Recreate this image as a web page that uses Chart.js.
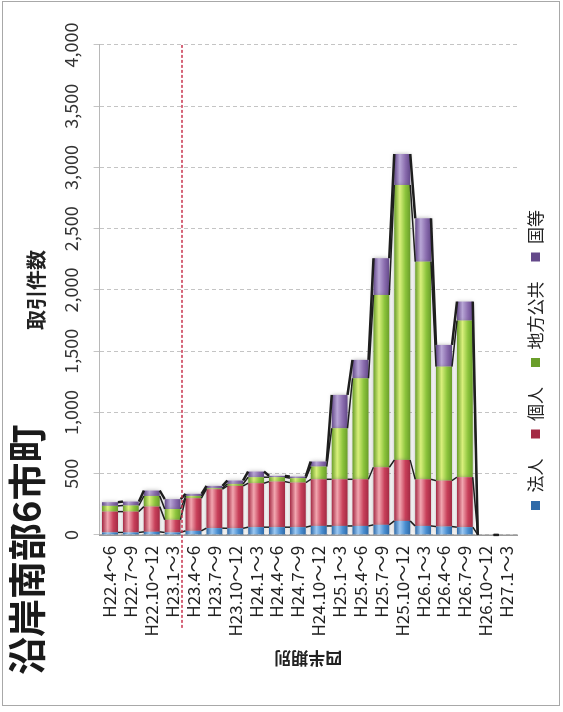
<!DOCTYPE html>
<html>
<head>
<meta charset="utf-8">
<script src="https://cdn.jsdelivr.net/npm/chart.js@4.4.1/dist/chart.umd.min.js"></script>
<style>
    html, body { margin: 0; padding: 0; background: #ffffff; }
    body { width: 563px; height: 712px; position: relative; overflow: hidden; }
    #frame { position: absolute; left: 2px; top: 1px; width: 556px; height: 703px; border: 1px solid #a8a8a8; }
    /* the scanned chart lies on its side: draw it landscape and turn it */
    #turn { position: absolute; left: 0; top: 0; width: 712px; height: 563px; transform-origin: 0 0; transform: translateY(712px) rotate(-90deg); }
</style>
</head>
<body>
<div id="frame"></div>
<div id="turn"><canvas id="barChartLoc" width="712" height="563"></canvas></div>
<script>
var quarters = ["H22.4～6", "H22.7～9", "H22.10～12", "H23.1～3", "H23.4～6", "H23.7～9", "H23.10～12",
    "H24.1～3", "H24.4～6", "H24.7～9", "H24.10～12", "H25.1～3", "H25.4～6", "H25.7～9", "H25.10～12",
    "H26.1～3", "H26.4～6", "H26.7～9", "H26.10～12", "H27.1～3"];

var houjin = [20, 20, 25, 20, 33, 55, 54, 63, 63, 63, 73, 73, 73, 82, 114, 73, 68, 63, 0, 0];
var kojin = [170, 170, 206, 103, 266, 318, 346, 359, 372, 364, 381, 381, 381, 470, 498, 381, 375, 408, 0, 0];
var chihou = [47, 50, 87, 88, 19, 8, 16, 49, 36, 36, 104, 417, 825, 1407, 2245, 1777, 931, 1279, 0, 0];
var kuni = [30, 32, 44, 81, 17, 19, 28, 46, 11, 13, 41, 272, 150, 300, 253, 354, 177, 155, 0, 0];

var seriesNames = ["法人", "個人", "地方公共", "国等"];
var valueTicks = [0, 500, 1000, 1500, 2000, 2500, 3000, 3500, 4000];

var barRatio = 0.76;
var jp = '"Noto Sans CJK JP", "Noto Sans", sans-serif';

// cylinder-like shading across each bar
function shade(base, light, dark) {
    return function (c) {
        var chart = c.chart;
        if (c.dataIndex === undefined || !chart.chartArea) {
            return base;
        }
        var y = chart.scales.y;
        var mid = y.getPixelForValue(c.dataIndex);
        var half = y.height / quarters.length * barRatio / 2;
        var g = chart.ctx.createLinearGradient(0, mid - half, 0, mid + half);
        g.addColorStop(0, dark);
        g.addColorStop(0.35, light);
        g.addColorStop(0.7, base);
        g.addColorStop(1, dark);
        return g;
    };
}

// Excel style series lines between stacks, plus the red dashed marker line
var extraLines = {
    id: "extraLines",
    afterLayout: function (chart) {
        // legend sits a little closer to the plot than its padding allows
        chart.legend.top -= 10;
        chart.legend.bottom -= 10;
    },
    beforeDatasetsDraw: function (chart) {
        var ctx = chart.ctx;
        ctx.save();
        ctx.shadowColor = "rgba(90, 90, 90, 0.45)";
        ctx.shadowBlur = 4;
    },
    afterDatasetsDraw: function (chart) {
        var ctx = chart.ctx;
        ctx.restore();
        var x = chart.scales.x;
        var y = chart.scales.y;
        var half = y.height / quarters.length * barRatio / 2;
        var stacks = [houjin, kojin, chihou, kuni];
        var sums = quarters.map(function () { return 0; });

        ctx.save();
        ctx.strokeStyle = "#1e1e1e";
        for (var s = 0; s < stacks.length; s++) {
            for (var i = 0; i < quarters.length; i++) {
                sums[i] += stacks[s][i];
            }
            ctx.lineWidth = s === stacks.length - 1 ? 2.5 : 1.5;
            for (var j = 0; j < quarters.length - 1; j++) {
                ctx.beginPath();
                ctx.moveTo(x.getPixelForValue(sums[j]), y.getPixelForValue(j) + half);
                ctx.lineTo(x.getPixelForValue(sums[j + 1]), y.getPixelForValue(j + 1) - half);
                ctx.stroke();
            }
        }

        var yMark = y.getPixelForValue(3) + half + 1.5;
        ctx.strokeStyle = "#c8334e";
        ctx.lineWidth = 1.5;
        ctx.setLineDash([3, 2]);
        ctx.beginPath();
        ctx.moveTo(x.left - 93, yMark);
        ctx.lineTo(x.right, yMark);
        ctx.stroke();
        ctx.restore();
    }
};

var canvas = document.getElementById("barChartLoc");
canvas.chart = new Chart(canvas.getContext("2d"), {
    type: "bar",
    data: {
        labels: quarters,
        datasets: [
            { label: seriesNames[0], data: houjin, backgroundColor: shade("#4a8ed0", "#9cc8f2", "#2f6aa8") },
            { label: seriesNames[1], data: kojin, backgroundColor: shade("#c8405a", "#f2a6b0", "#a42a44") },
            { label: seriesNames[2], data: chihou, backgroundColor: shade("#8cc43c", "#d9f07c", "#6a9e2a") },
            { label: seriesNames[3], data: kuni, backgroundColor: shade("#8a6cae", "#b8a6d6", "#64498a") }
        ]
    },
    options: {
        indexAxis: "y",
        responsive: false,
        animation: false,
        locale: "en-US",
        categoryPercentage: 1,
        barPercentage: barRatio,
        layout: { padding: { left: 37, right: 45, top: 0, bottom: -1 } },
        scales: {
            x: {
                position: "top",
                stacked: true,
                min: 0,
                max: 4000,
                afterBuildTicks: function (axis) {
                    axis.ticks = valueTicks.map(function (v) { return { value: v }; });
                },
                ticks: {
                    maxRotation: 0,
                    padding: 12,
                    color: "#333333",
                    font: { family: jp, size: 18 },
                    callback: function (v) { return Number(v).toLocaleString("en-US"); }
                },
                grid: { color: "#c4c4c4", lineWidth: 1, tickLength: 6, drawTicks: true },
                border: { color: "#b8b8b8", dash: [4, 3] },
                title: {
                    display: true,
                    text: "取引件数",
                    color: "#222222",
                    font: { family: jp, size: 20, weight: "bold" },
                    padding: { top: -2, bottom: 0 }
                }
            },
            y: {
                stacked: true,
                ticks: {
                    autoSkip: false,
                    padding: 11,
                    color: "#222222",
                    font: { family: jp, size: 17 }
                },
                grid: { display: false, drawTicks: false },
                border: { color: "#9a9a9a", width: 1.5 },
                title: {
                    display: true,
                    text: "四半期別",
                    color: "#222222",
                    font: { family: jp, size: 17, weight: "bold" },
                    padding: { top: 6, bottom: 1 }
                }
            }
        },
        plugins: {
            title: {
                display: true,
                text: "沿岸南部6市町",
                align: "start",
                color: "#1a1a1a",
                font: { family: jp, size: 38, weight: "bold" },
                padding: { top: 4, bottom: -23.6 }
            },
            legend: {
                position: "bottom",
                labels: {
                    boxWidth: 9,
                    boxHeight: 9,
                    padding: 20,
                    color: "#222222",
                    font: { family: jp, size: 17 }
                }
            },
            tooltip: { enabled: false }
        }
    },
    plugins: [extraLines]
});
</script>
</body>
</html>
